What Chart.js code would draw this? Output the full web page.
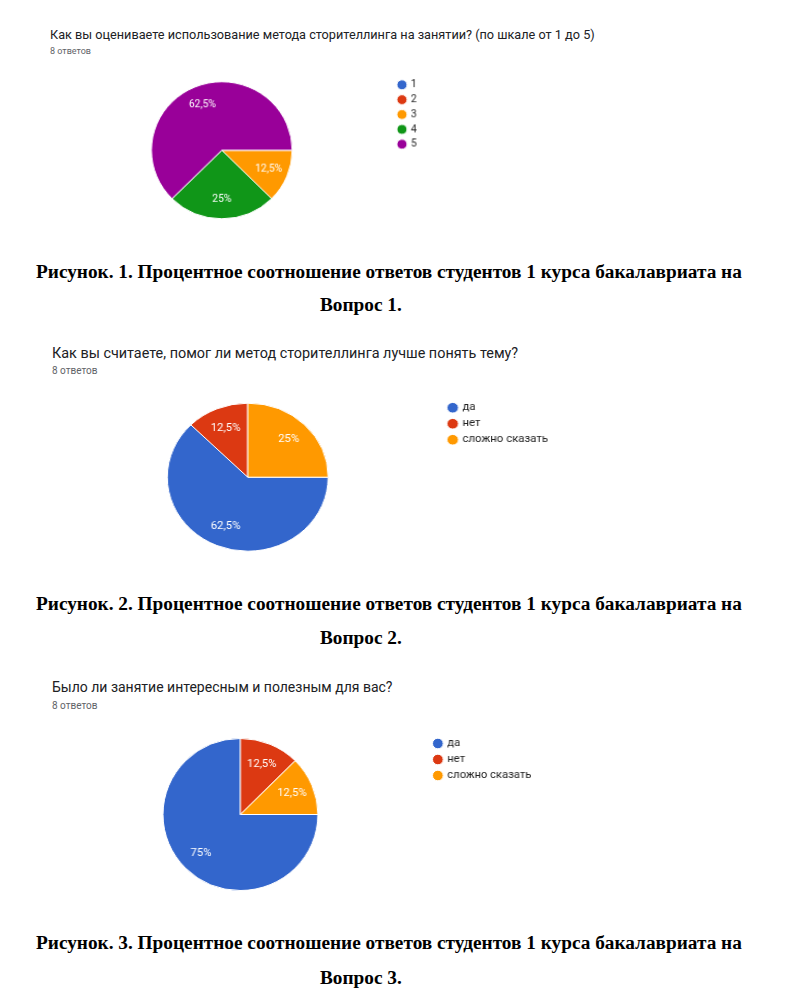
<!DOCTYPE html>
<html lang="ru">
<head>
<meta charset="utf-8">
<title>Опрос: сторителлинг на занятии</title>
<script src="https://cdn.jsdelivr.net/npm/chart.js@4.4.1/dist/chart.umd.min.js"></script>
<style>
    html, body { margin: 0; padding: 0; background: #fff; }
    #page { position: relative; width: 802px; height: 990px; overflow: hidden; }
    .q-title { position: absolute; font-family: Roboto, "Noto Sans", sans-serif; color: #202124; white-space: nowrap; line-height: 1; }
    .q-sub { position: absolute; font-family: Roboto, "Noto Sans", sans-serif; color: #5f6368; white-space: nowrap; line-height: 1; }
    .caption { position: absolute; font-family: "Liberation Serif", "Times New Roman", serif; font-weight: bold; font-size: 19.3px; color: #000; white-space: nowrap; line-height: 1; }
    .pie-box { position: absolute; }
</style>
</head>
<body>
<div id="page">
    <div class="q-title" style="left:50px; top:29px; font-size:12.7px;">Как вы оцениваете использование метода сторителлинга на занятии? (по шкале от 1 до 5)</div>
    <div class="q-sub" style="left:50px; top:47px; font-size:9px;">8 ответов</div>
    <div class="pie-box" id="box1"><canvas id="chart1"></canvas></div>
    <div class="caption" style="left:36px; top:262px;">Рисунок. 1. Процентное соотношение ответов студентов 1 курса бакалавриата на</div>
    <div class="caption" style="left:320px; top:295px;">Вопрос 1.</div>

    <div class="q-title" style="left:52px; top:346.5px; font-size:14.4px;">Как вы считаете, помог ли метод сторителлинга лучше понять тему?</div>
    <div class="q-sub" style="left:52px; top:366px; font-size:10px;">8 ответов</div>
    <div class="pie-box" id="box2"><canvas id="chart2"></canvas></div>
    <div class="caption" style="left:36px; top:594px;">Рисунок. 2. Процентное соотношение ответов студентов 1 курса бакалавриата на</div>
    <div class="caption" style="left:320px; top:628px;">Вопрос 2.</div>

    <div class="q-title" style="left:52px; top:680px; font-size:14px;">Было ли занятие интересным и полезным для вас?</div>
    <div class="q-sub" style="left:52px; top:700.5px; font-size:10px;">8 ответов</div>
    <div class="pie-box" id="box3"><canvas id="chart3"></canvas></div>
    <div class="caption" style="left:36px; top:933px;">Рисунок. 3. Процентное соотношение ответов студентов 1 курса бакалавриата на</div>
    <div class="caption" style="left:320px; top:968px;">Вопрос 3.</div>
</div>

<script>
// Survey data (8 answers per question)
const q1Labels = ['1', '2', '3', '4', '5'];
const q1Values = [0, 0, 1, 2, 5];
const q1Colors = ['#3366cc', '#dc3912', '#ff9900', '#109618', '#990099'];

const q2Labels = ['да', 'нет', 'сложно сказать'];
const q2Values = [5, 1, 2];
const q2Colors = ['#3366cc', '#dc3912', '#ff9900'];

const q3Labels = ['да', 'нет', 'сложно сказать'];
const q3Values = [6, 1, 1];
const q3Colors = ['#3366cc', '#dc3912', '#ff9900'];

// Percent text inside the slices, Google Forms style ("62,5%")
const sliceLabels = {
    id: 'sliceLabels',
    afterDatasetsDraw(chart, args, opts) {
        const ctx = chart.ctx;
        const meta = chart.getDatasetMeta(0);
        const values = chart.data.datasets[0].data;
        const total = values.reduce((a, b) => a + b, 0);
        ctx.save();
        ctx.fillStyle = '#ffffff';
        ctx.font = `${opts.size}px Roboto, "Noto Sans", sans-serif`;
        ctx.textAlign = 'center';
        ctx.textBaseline = 'middle';
        meta.data.forEach((arc, i) => {
            if (!values[i]) return;
            const p = arc.getProps(['x', 'y', 'startAngle', 'endAngle', 'outerRadius'], true);
            const mid = (p.startAngle + p.endAngle) / 2;
            const r = p.outerRadius * 0.72;
            const pct = Math.round(values[i] / total * 1000) / 10;
            ctx.fillText(String(pct).replace('.', ',') + '%', p.x + Math.cos(mid) * r, p.y + Math.sin(mid) * r);
        });
        ctx.restore();
    }
};

function makePie(id, boxId, labels, values, colors, g) {
    const box = document.getElementById(boxId);
    box.style.left = g.left + 'px';
    box.style.top = g.top + 'px';
    box.style.width = g.width + 'px';
    box.style.height = g.height + 'px';
    // the reference screenshot is slightly stretched horizontally
    box.style.transform = `scaleX(${g.stretch})`;
    box.style.transformOrigin = `${g.cx - g.left}px 50%`;

    return new Chart(document.getElementById(id), {
        type: 'pie',
        data: {
            labels: labels,
            datasets: [{
                data: values,
                backgroundColor: colors,
                borderColor: '#ffffff',
                borderWidth: 1,
                radius: g.radius
            }]
        },
        options: {
            responsive: true,
            maintainAspectRatio: false,
            animation: false,
            rotation: 90,
            layout: { padding: 0 },
            plugins: {
                legend: {
                    position: 'right',
                    align: 'start',
                    labels: {
                        usePointStyle: true,
                        pointStyle: 'circle',
                        boxWidth: g.dot,
                        boxHeight: g.dot,
                        padding: g.gap,
                        color: '#222222',
                        font: { family: 'Roboto, "Noto Sans", sans-serif', size: g.font }
                    }
                },
                tooltip: { enabled: false },
                sliceLabels: { size: g.labelSize }
            }
        },
        plugins: [sliceLabels]
    });
}

makePie('chart1', 'box1', q1Labels, q1Values, q1Colors,
    { left: 55.6, top: 75.2, width: 364, height: 149.5, cx: 221.5, radius: 68, stretch: 1.035, dot: 7, gap: 4.75, font: 10, labelSize: 10 });
makePie('chart2', 'box2', q2Labels, q2Values, q2Colors,
    { left: 68, top: 396.5, width: 465.5, height: 160.4, cx: 246.7, radius: 74, stretch: 1.085, dot: 7.5, gap: 5.5, font: 10.5, labelSize: 10.5 });
makePie('chart3', 'box3', q3Labels, q3Values, q3Colors,
    { left: 54.7, top: 732.5, width: 480.5, height: 163, cx: 240, radius: 76, stretch: 1.017, dot: 7.5, gap: 5, font: 11, labelSize: 11 });
</script>
</body>
</html>
